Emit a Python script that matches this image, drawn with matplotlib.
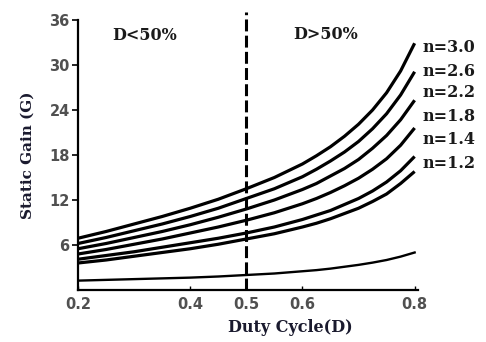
import matplotlib
matplotlib.use("Agg")
import matplotlib.pyplot as plt

# Duty cycle sample points
duty = [0.2, 0.25, 0.3, 0.35, 0.4, 0.45, 0.5, 0.55, 0.6, 0.625, 0.65,
        0.675, 0.7, 0.725, 0.75, 0.775, 0.8]

# Static gain curves
g_n30 = [6.9, 7.8, 8.8, 9.8, 10.9, 12.1, 13.5, 15.0, 16.8, 17.9, 19.1,
         20.5, 22.1, 24.0, 26.3, 29.2, 32.9]
g_n26 = [6.2, 7.0, 7.9, 8.8, 9.8, 10.9, 12.2, 13.5, 15.1, 16.1, 17.2,
         18.4, 19.8, 21.5, 23.5, 26.0, 29.1]
g_n22 = [5.5, 6.2, 7.0, 7.8, 8.7, 9.7, 10.8, 12.0, 13.4, 14.2, 15.2,
         16.2, 17.4, 18.9, 20.6, 22.7, 25.3]
g_n18 = [4.8, 5.4, 6.1, 6.8, 7.6, 8.4, 9.3, 10.3, 11.5, 12.2, 13.0,
         13.9, 14.9, 16.1, 17.5, 19.3, 21.6]
g_n14 = [4.1, 4.6, 5.1, 5.7, 6.3, 6.9, 7.6, 8.4, 9.4, 10.0, 10.6,
         11.4, 12.2, 13.2, 14.4, 15.9, 17.8]
g_n12 = [3.6, 4.0, 4.5, 5.0, 5.5, 6.1, 6.8, 7.5, 8.4, 8.9, 9.5,
         10.2, 10.9, 11.8, 12.8, 14.2, 15.8]
g_conv = [1.25, 1.35, 1.45, 1.55, 1.65, 1.8, 2.0, 2.2, 2.5, 2.65, 2.85,
          3.1, 3.35, 3.65, 4.0, 4.45, 5.0]

curve_labels = ["n=3.0", "n=2.6", "n=2.2", "n=1.8", "n=1.4", "n=1.2"]
label_y = [32.3, 29.1, 26.3, 23.1, 20.0, 16.9]

x_ticks = [0.2, 0.4, 0.5, 0.6, 0.8]
y_ticks = [6, 12, 18, 24, 30, 36]

fig = plt.figure(figsize=(4.86, 3.42), dpi=100)
ax = fig.add_axes([78/486, 1-290/342, (418-78)/486, (290-20)/342])

for g in [g_n30, g_n26, g_n22, g_n18, g_n14, g_n12]:
    ax.plot(duty, g, color="black", lw=2.3, solid_capstyle="butt")
ax.plot(duty, g_conv, color="black", lw=1.7)

ax.plot([0.5, 0.5], [0, 37.1], color="black", lw=2.2, ls=(0, (3.9, 1.4)),
        clip_on=False)

ax.set_xlim(0.2, 0.806)
ax.set_ylim(0, 36)
ax.spines["top"].set_visible(False)
ax.spines["right"].set_visible(False)
ax.spines["left"].set_linewidth(1.6)
ax.spines["bottom"].set_linewidth(1.6)

ax.set_xticks(x_ticks)
ax.set_xticklabels([str(t) for t in x_ticks])
ax.set_yticks(y_ticks)
ax.set_yticklabels([str(t) for t in y_ticks])
ax.tick_params(axis="y", direction="out", length=4, width=1.2, pad=2,
               labelsize=10.5, labelcolor="#505050")
ax.tick_params(axis="x", direction="in", length=3, width=1.0, pad=5,
               labelsize=10.5, labelcolor="#505050")
for lab in ax.get_xticklabels() + ax.get_yticklabels():
    lab.set_fontweight("bold")
    lab.set_family("DejaVu Sans")

serif = "DejaVu Serif"
for lab, yv in zip(curve_labels, label_y):
    ax.text(0.814, yv, lab, fontsize=11.5, fontweight="bold", family=serif,
            va="center", ha="left", color="#1a1a1a", clip_on=False)

ax.text(0.319, 34.0, "D<50%", fontsize=11.5, fontweight="bold", family=serif,
        ha="center", va="center", color="#1a1a1a")
ax.text(0.642, 34.1, "D>50%", fontsize=11.5, fontweight="bold", family=serif,
        ha="center", va="center", color="#1a1a1a")

fig.text(28/486, 1-155/342, "Static Gain (G)", rotation=90, fontsize=11,
         fontweight="bold", family=serif, ha="center", va="center", color="#1a1a2e")
fig.text(290/486, 1-328/342, "Duty Cycle(D)", fontsize=11.5,
         fontweight="bold", family=serif, ha="center", va="center", color="#1a1a2e")

fig.savefig("out.png", dpi=100)
